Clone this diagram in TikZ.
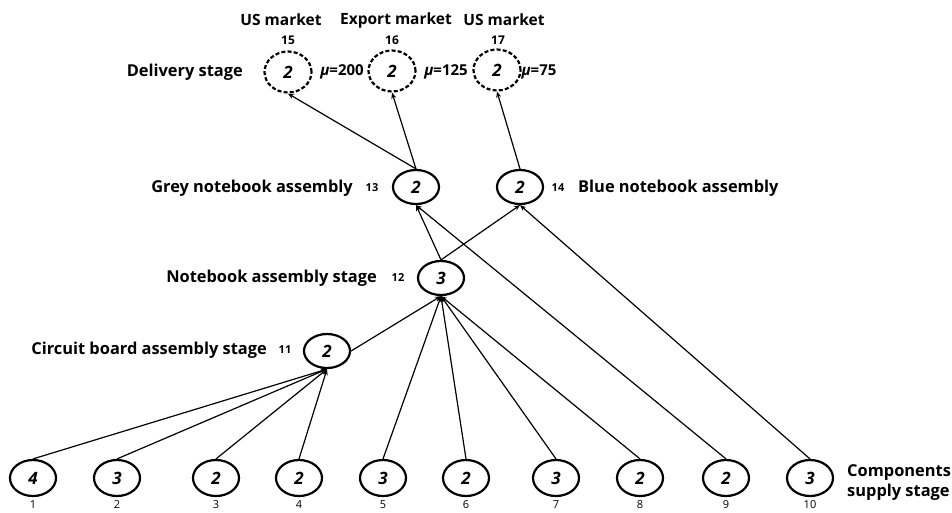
\documentclass[tikz,border=0pt]{standalone}
\usepackage{fontspec}
\setmainfont{Open Sans}
\usetikzlibrary{arrows.meta,shapes.geometric}
\begin{document}
\begin{tikzpicture}[x=1pt,y=-1pt,
  stagenode/.style={draw,line width=2.2pt,ellipse,minimum width=46pt,minimum height=36pt,inner sep=0pt,font=\fontsize{17}{17}\selectfont\bfseries\itshape},
  marketnode/.style={stagenode,dashed,dash pattern=on 4pt off 2.2pt,minimum width=47pt,minimum height=41pt},
  toplbl/.style={font=\fontsize{15.5}{18}\selectfont\bfseries,inner sep=0pt},
  lbl/.style={font=\fontsize{16.4}{19}\selectfont\bfseries,inner sep=0pt},
  idx/.style={font=\fontsize{11}{13}\selectfont\bfseries,inner sep=0pt},
  topidx/.style={font=\fontsize{12}{14}\selectfont\bfseries,inner sep=0pt},
  botidx/.style={font=\fontsize{11}{13}\selectfont,inner sep=0pt},
  mu/.style={font=\fontsize{15}{17}\selectfont\bfseries,inner sep=0pt},
  link/.style={line width=1.2pt,-{Stealth[length=6pt,width=5pt]}}
]
\useasboundingbox (0,0) rectangle (952,512);
% components
\node[stagenode] (n1) at (33,478) {4};
\node[stagenode] (n2) at (117,478) {3};
\node[stagenode] (n3) at (216,478) {2};
\node[stagenode] (n4) at (299,478) {2};
\node[stagenode] (n5) at (383,478) {3};
\node[stagenode] (n6) at (466,478) {2};
\node[stagenode] (n7) at (556,478) {3};
\node[stagenode] (n8) at (640,478) {2};
\node[stagenode] (n9) at (726,478) {2};
\node[stagenode] (n10) at (810,478) {3};
\foreach \i/\x in {1/33,2/117,3/216,4/299,5/383,6/466,7/556,8/640,9/726,10/810}
  \node[botidx] (b\i) at (\x,505) {\i};
% stages
\node[stagenode,minimum height=34pt] (n11) at (327,351) {2};
\node[stagenode,minimum height=34pt] (n12) at (441,278) {3};
\node[stagenode,minimum height=34pt] (n13) at (416,187) {2};
\node[stagenode,minimum height=34pt] (n14) at (520,187) {2};
\node[marketnode] (n15) at (288,72) {2};
\node[marketnode] (n16) at (392,71) {2};
\node[marketnode] (n17) at (497,70) {2};
% labels
\node[toplbl] (t1) at (281,20) {US market};
\node[toplbl] (t2) at (396,20) {Export market};
\node[toplbl] (t3) at (504,20) {US market};
\node[topidx] (i15) at (288,40) {15};
\node[topidx] (i16) at (392,40) {16};
\node[topidx] (i17) at (498,40) {17};
\node[lbl,anchor=east] (ld) at (243,72) {Delivery stage};
\node[mu] (m1) at (342,72) {\textit{μ}=200};
\node[mu] (m2) at (446,72) {\textit{μ}=125};
\node[mu] (m3) at (539,72) {\textit{μ}=75};
\node[lbl,anchor=east] (lg) at (353,188) {Grey notebook assembly};
\node[idx] (i13) at (372,188) {13};
\node[idx] (i14) at (558,188) {14};
\node[lbl,anchor=west] (lb) at (578,188) {Blue notebook assembly};
\node[lbl,anchor=east] (ln) at (377,278) {Notebook assembly stage};
\node[idx] (i12) at (398,278) {12};
\node[lbl,anchor=east] (lc) at (267,350) {Circuit board assembly stage};
\node[idx] (i11) at (285,350) {11};
\node[lbl,anchor=west,align=left,font=\fontsize{16.4}{20}\selectfont\bfseries] (lcs) at (847,483) {Components\\supply stage};
% connectors
\foreach \s in {n1,n2,n3,n4} \draw[link] (\s.north) -- (n11.south);
\draw[link] (n11.east) -- (n12.south);
\foreach \s in {n5,n6,n7,n8} \draw[link] (\s.north) -- (n12.south);
\draw[link] (n12.north) -- (n13.south);
\draw[link] (n12.north) -- (n14.south);
\draw[link] (n9.north) -- (n13.south);
\draw[link] (n10.north) -- (n14.south);
\draw[link] (n13.north) -- (n15.south);
\draw[link] (n13.north) -- (n16.south);
\draw[link] (n14.north) -- (n17.south);
\end{tikzpicture}
\end{document}
